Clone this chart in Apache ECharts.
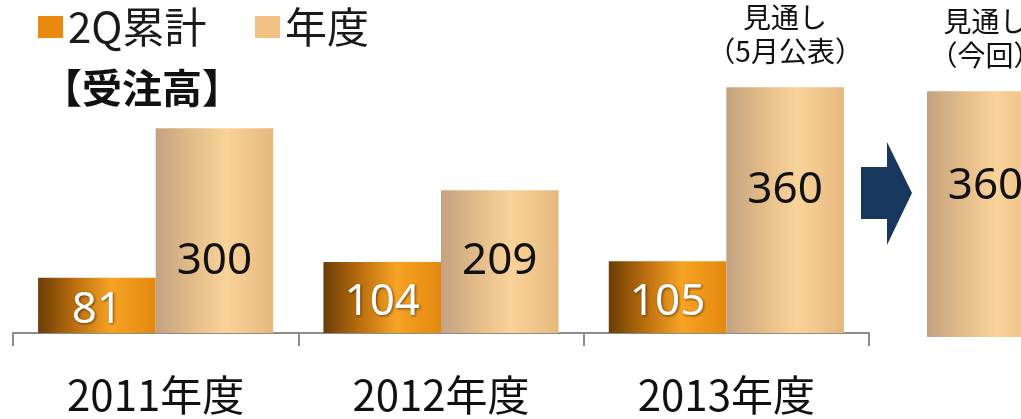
<!DOCTYPE html>
<html>
<head>
<meta charset="utf-8">
<script src="https://cdn.jsdelivr.net/npm/echarts@6/dist/echarts.min.js"></script>
<style>
  html, body { margin: 0; padding: 0; background: #ffffff; }
  #chart { width: 1021px; height: 419px; }
</style>
</head>
<body>
<div id="chart"></div>
<script>
// ---- data ----
const categories = ['2011年度', '2012年度', '2013年度'];
const q2Values = [81, 104, 105];
const annualValues = [300, 209, 360];
const latestCategories = ['今回'];
const latestValues = [360];
const seriesNames = ['2Q累計', '年度', '見通し（今回）'];
const forecastCategory = '2013年度';
const forecastNotes = ['見通し\n（5月公表）', '見通し\n（今回）'];
const titleText = '【受注高】';

// ---- styles ----
const CJK = "'Noto Sans CJK JP', 'Noto Sans', sans-serif";
const NUM = "'Noto Sans', 'Noto Sans CJK JP', sans-serif";
const q2Gradient = new echarts.graphic.LinearGradient(0, 0, 1, 0, [
  { offset: 0, color: '#6a3d06' },
  { offset: 0.3, color: '#b86c0d' },
  { offset: 0.62, color: '#f7a324' },
  { offset: 1, color: '#e3880f' }
]);
const annualGradient = () => new echarts.graphic.LinearGradient(0, 0, 1, 0, [
  { offset: 0, color: '#c2a282' },
  { offset: 0.3, color: '#e3bb88' },
  { offset: 0.6, color: '#fad39a' },
  { offset: 1, color: '#e5b87d' }
]);

const noteLabel = (text) => ({
  show: true,
  position: 'top',
  distance: 18,
  formatter: text,
  fontFamily: CJK,
  fontSize: 28,
  lineHeight: 34,
  color: '#111111'
});

const annualData = annualValues.map((v, i) =>
  categories[i] === forecastCategory
    ? { value: v, label: { position: 'inside', offset: [0, -20] } }
    : v
);

const chart = echarts.init(document.getElementById('chart'), null, { renderer: 'canvas' });
chart.setOption({
  animation: false,
  backgroundColor: '#ffffff',
  title: {
    text: titleText,
    left: 42,
    top: 68,
    padding: 0,
    textStyle: { fontFamily: CJK, fontSize: 40, fontWeight: 'bold', color: '#111111' }
  },
  legend: [
    {
      data: [{ name: seriesNames[0], itemStyle: { color: '#e98a0e' } }],
      left: 38, top: 6, padding: 0, icon: 'rect', itemWidth: 25, itemHeight: 22,
      textStyle: { fontFamily: CJK, fontSize: 42, color: '#1a1a1a' }
    },
    {
      data: [{ name: seriesNames[1], itemStyle: { color: '#f2c184' } }],
      left: 255, top: 6, padding: 0, icon: 'rect', itemWidth: 25, itemHeight: 22,
      textStyle: { fontFamily: CJK, fontSize: 42, color: '#1a1a1a' }
    }
  ],
  grid: [
    { left: 13, right: 152, top: 60, bottom: 86, containLabel: false, outerBoundsMode: 'none' },
    { left: 927, width: 117, top: 64, bottom: 82, containLabel: false, outerBoundsMode: 'none' }
  ],
  xAxis: [
    {
      type: 'category',
      gridIndex: 0,
      data: categories,
      axisLine: { show: true, lineStyle: { color: '#8c8c8c', width: 2 } },
      axisTick: { show: true, length: 13, lineStyle: { color: '#8c8c8c', width: 2 } },
      axisLabel: { margin: 41, fontFamily: CJK, fontSize: 42, color: '#111111' }
    },
    {
      type: 'category',
      gridIndex: 1,
      data: latestCategories,
      show: false
    }
  ],
  yAxis: [
    { type: 'value', gridIndex: 0, min: 0, max: 400, show: false, splitLine: { show: false } },
    { type: 'value', gridIndex: 1, min: 0, max: 400, show: false, splitLine: { show: false } }
  ],
  series: [
    {
      name: seriesNames[0],
      type: 'bar',
      xAxisIndex: 0, yAxisIndex: 0,
      data: q2Values,
      barGap: '0%',
      barCategoryGap: '17.6%',
      itemStyle: { color: q2Gradient },
      label: {
        show: true,
        position: 'inside',
        offset: [0, 5],
        fontFamily: NUM,
        fontSize: 44,
        color: '#ffffff',
        textShadowColor: 'rgba(60,30,0,0.7)',
        textShadowBlur: 3,
        textShadowOffsetX: 1,
        textShadowOffsetY: 1
      }
    },
    {
      name: seriesNames[1],
      type: 'bar',
      xAxisIndex: 0, yAxisIndex: 0,
      data: annualData,
      barGap: '0%',
      barCategoryGap: '17.6%',
      itemStyle: { color: annualGradient() },
      label: {
        show: true,
        position: 'insideBottom',
        distance: 50,
        fontFamily: NUM,
        fontSize: 44,
        color: '#111111'
      },
      markPoint: {
        symbol: 'rect',
        symbolSize: 1,
        itemStyle: { color: 'rgba(0,0,0,0)' },
        label: noteLabel(forecastNotes[0]),
        data: [{ coord: [forecastCategory, annualValues[categories.indexOf(forecastCategory)]] }]
      }
    },
    {
      name: seriesNames[2],
      type: 'bar',
      xAxisIndex: 1, yAxisIndex: 1,
      data: latestValues,
      barCategoryGap: '0%',
      itemStyle: { color: annualGradient() },
      label: {
        show: true,
        position: 'inside',
        offset: [0, -28],
        fontFamily: NUM,
        fontSize: 44,
        color: '#111111'
      },
      markPoint: {
        symbol: 'rect',
        symbolSize: 1,
        itemStyle: { color: 'rgba(0,0,0,0)' },
        label: noteLabel(forecastNotes[1]),
        data: [{ coord: [latestCategories[0], latestValues[0]] }]
      }
    }
  ],
  graphic: [
    {
      type: 'polygon',
      shape: { points: [[861, 167], [887, 167], [887, 142], [912, 193], [887, 245], [887, 219], [861, 219]] },
      style: { fill: '#17375e' }
    }
  ]
});
</script>
</body>
</html>
